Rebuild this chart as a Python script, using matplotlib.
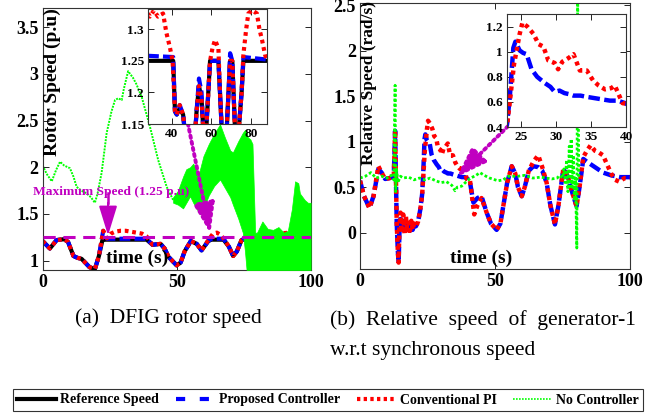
import matplotlib
matplotlib.use('Agg')
import matplotlib.pyplot as plt
from matplotlib.lines import Line2D
from matplotlib.ticker import FuncFormatter

plt.rcParams['font.family'] = 'serif'
plt.rcParams['font.serif'] = ['Liberation Serif', 'DejaVu Serif']
plt.rcParams['font.weight'] = 'bold'

# ---------------- (a) DFIG rotor speed ----------------
t_ref_a = [0, 2.7, 5.2, 8, 9.5, 11.5, 13, 14.5, 17.5, 19.5, 21, 22.3, 23.5, 38.8, 41, 44, 45.5, 47, 50, 51.5, 53,
           55.3, 57.5, 59.3, 61.8, 63, 67.5, 69.5, 71.1, 72.5, 74.2, 75.5, 78, 80.3, 82, 100]
w_ref_a = [1.21, 1.13, 1.22, 1.23, 1.2, 1.05, 1.03, 1.02, 0.93, 0.91, 1.05, 1.22, 1.225, 1.225, 1.17, 1.18, 1.13, 1.04,
           0.95, 0.98, 1.1, 1.21, 1.18, 1.11, 1.21, 1.225, 1.225, 1.15, 1.05, 1.1, 1.22, 1.23, 1.23, 1.13, 1.23, 1.23]

t_prop_a = [0, 2.7, 5.2, 8, 9.5, 11.5, 13, 14.5, 17.5, 19.5, 21, 22.6, 24, 38.8, 41, 44, 45.5, 47, 50, 51.5, 53,
            55.3, 57.5, 59.3, 61.8, 63, 67.5, 69.5, 71.1, 72.5, 74.2, 75.5, 78, 80.3, 82, 100]
w_prop_a = [1.21, 1.13, 1.22, 1.23, 1.2, 1.05, 1.03, 1.02, 0.93, 0.91, 1.05, 1.32, 1.235, 1.235, 1.17, 1.18, 1.13,
            1.04, 0.95, 0.98, 1.1, 1.21, 1.18, 1.11, 1.21, 1.235, 1.235, 1.15, 1.05, 1.1, 1.22, 1.24, 1.24, 1.15,
            1.25, 1.25]

t_pi_a = [0, 2.7, 5.2, 8, 9.5, 11.5, 13, 14.5, 17.5, 19.5, 21, 22.6, 24, 25.5, 27, 29, 31, 33, 35, 37, 38.8, 41, 44,
          45.5, 47, 50, 51.5, 53, 55.3, 57.5, 59.3, 61.8, 63.6, 65, 66.2, 67.5, 69.5, 71.1, 72.5, 74.2, 75.5, 78,
          80.3, 82, 85, 88, 92, 95, 100]
w_pi_a = [1.21, 1.13, 1.22, 1.23, 1.2, 1.05, 1.03, 1.02, 0.93, 0.91, 1.05, 1.32, 1.24, 1.29, 1.31, 1.32, 1.32, 1.31,
          1.3, 1.29, 1.26, 1.17, 1.18, 1.13, 1.04, 0.95, 0.98, 1.1, 1.21, 1.18, 1.11, 1.22, 1.29, 1.3, 1.28, 1.24,
          1.15, 1.05, 1.1, 1.22, 1.25, 1.26, 1.15, 1.27, 1.3, 1.29, 1.3, 1.27, 1.26]

t_nc_a = [0, 1.5, 3.4, 5, 6.5, 8, 10.2, 11.5, 12.7, 14.5, 16.4, 18, 19.5, 20.5, 22, 23.9, 25.7, 27, 28.2, 29.5, 30.3,
          31.9, 33.7, 35, 37, 40, 43.1, 46.3, 48.7, 50.5, 52]
w_nc_a = [2.02, 1.93, 1.85, 1.97, 2.06, 2.02, 1.99, 1.9, 1.79, 1.75, 1.72, 1.68, 1.62, 1.72, 1.94, 2.37, 2.6, 2.72,
          2.74, 2.72, 2.84, 3.03, 2.96, 2.89, 2.75, 2.44, 2.08, 1.79, 1.65, 1.68, 1.62]

# oscillating part of the no-controller case (envelope of the band)
t_band_a = [48.7, 50.5, 52.4, 53.6, 55, 56.2, 58.2, 60, 62, 64, 66.2, 68, 70, 71, 73, 74.7, 75.5, 76.1, 76.6, 77.5,
            78.3, 79.3, 80, 82, 84, 86, 88, 90, 91.5, 93, 94.2, 95.4, 96, 97.8, 99, 100]
hi_band_a = [1.68, 1.75, 1.9, 1.98, 2.0, 2.04, 1.92, 2.12, 2.25, 2.36, 2.46, 2.32, 2.18, 2.16, 2.28, 2.37, 2.40, 2.38,
             2.32, 2.3, 2.25, 1.3, 1.3, 1.42, 1.34, 1.33, 1.36, 1.3, 1.32, 1.55, 1.85, 1.83, 1.72, 1.65, 1.62, 1.62]
lo_band_a = [1.62, 1.6, 1.56, 1.62, 1.69, 1.62, 1.52, 1.56, 1.7, 1.8, 1.87, 1.78, 1.68, 1.6, 1.45, 1.3, 1.1, 0.9,
             0.9, 0.9, 0.9, 0.9, 0.9, 0.9, 0.9, 0.9, 0.9, 0.9, 0.9, 0.9, 0.9, 0.9, 0.9, 0.9, 0.9, 0.9]

max_speed = 1.255

# zoomed window of (a)
t_ref_in = [28, 40.7, 41.6, 42.5, 44, 45.7, 46.5, 48, 51, 52.5, 53.7, 55, 55.9, 57, 58.4, 59.3, 63.5, 64.3, 65.2,
            67.5, 68.6, 69.4, 70.5, 71.9, 73.5, 75.2, 76.1, 88]
w_ref_in = [1.25, 1.25, 1.17, 1.165, 1.175, 1.165, 1.14, 1.10, 1.10, 1.17, 1.21, 1.19, 1.14, 1.12, 1.2, 1.25, 1.25,
            1.2, 1.14, 1.13, 1.2, 1.25, 1.25, 1.14, 1.13, 1.2, 1.25, 1.25]
w_prop_in = [1.258, 1.256, 1.17, 1.165, 1.18, 1.165, 1.14, 1.10, 1.10, 1.17, 1.222, 1.2, 1.14, 1.12, 1.2, 1.25, 1.25,
             1.2, 1.14, 1.13, 1.2, 1.262, 1.25, 1.14, 1.13, 1.2, 1.256, 1.252]
t_pi_in = [28, 29, 31, 33, 35.6, 37.3, 39, 40.4, 41.6, 42.5, 44, 45.7, 46.5, 48, 51, 52.5, 53.7, 55, 55.9, 57, 58.4,
           59.3, 60.5, 61.8, 63.5, 64.3, 65.2, 67.5, 68.6, 69.4, 70.5, 71.9, 73.5, 75.2, 76.1, 77.5, 78.6, 80.5,
           82.9, 84.2, 85.5, 87, 88]
w_pi_in = [1.325, 1.32, 1.33, 1.32, 1.325, 1.294, 1.272, 1.25, 1.17, 1.165, 1.18, 1.165, 1.14, 1.10, 1.10, 1.17,
           1.21, 1.19, 1.14, 1.12, 1.2, 1.25, 1.27, 1.283, 1.27, 1.2, 1.14, 1.13, 1.2, 1.25, 1.25, 1.14, 1.13, 1.2,
           1.26, 1.30, 1.325, 1.33, 1.325, 1.30, 1.283, 1.26, 1.25]

# ---------------- (b) relative speed of generator-1 ----------------
t_prop_b = [0, 1.5, 3.5, 5, 6.8, 8, 9.3, 11, 12.5, 12.8, 13.0, 13.3, 13.6, 14.0, 14.3, 14.6, 15, 15.5, 16, 16.5, 17,
            17.5, 18, 18.5, 19, 19.5, 20, 20.7, 21.5, 22.3, 23, 23.4, 23.9, 24.2, 24.8, 25.3, 25.8, 26.5, 27.3, 28.4,
            29.2, 29.8, 30.5, 31.2, 32, 32.5, 33.5, 34.4, 35.5, 36.6, 37.7, 38.8, 39.9, 40.7, 42, 43.5, 45, 46.9,
            48.5, 50.6, 52, 53, 54.5, 56.2, 57.5, 58.5, 59.9, 61, 62.5, 64.2, 66, 67.5, 69.1, 70.5, 72.2, 73.5, 75.3,
            76.2, 77.2, 78.5, 80.2, 81.3, 82.7, 84, 86, 88, 90, 93, 96.3, 100]
w_prop_b = [0.57, 0.4, 0.27, 0.4, 0.70, 0.66, 0.59, 0.6, 0.62, 0.9, 1.12, 0.6, 0.1, -0.2, -0.33, 0.0, 0.15, 0.08,
            0.13, 0.05, 0.12, 0.04, 0.1, 0.02, 0.09, 0.03, 0.08, 0.07, 0.12, 0.25, 0.42, 0.64, 1.03, 1.08, 1.01,
            0.99, 0.98, 0.86, 0.8, 0.75, 0.72, 0.68, 0.69, 0.67, 0.66, 0.65, 0.65, 0.64, 0.63, 0.62, 0.61, 0.61,
            0.59, 0.56, 0.33, 0.38, 0.40, 0.22, 0.1, 0.03, 0.1, 0.28, 0.55, 0.73, 0.65, 0.5, 0.40, 0.5, 0.68, 0.73,
            0.72, 0.68, 0.55, 0.3, 0.09, 0.3, 0.70, 0.66, 0.59, 0.45, 0.29, 0.5, 0.81, 0.78, 0.74, 0.7, 0.66, 0.63,
            0.61, 0.61]

t_pi_b = [0, 1.5, 3.5, 5, 6.8, 8, 9.3, 11, 12.5, 12.8, 13.0, 13.3, 13.6, 14.0, 14.3, 14.6, 15, 15.5, 16, 16.5, 17,
          17.5, 18, 18.5, 19, 19.5, 20, 20.7, 21.5, 22.3, 23, 23.4, 24.0, 24.8, 25.2, 25.9, 26.8, 27.5, 28.2, 28.9,
          29.8, 30.3, 30.9, 31.8, 32.5, 33.4, 34.4, 35.3, 36.1, 37, 37.9, 38.4, 39.5, 40.7, 42.3, 43.5, 45, 46.9,
          48.5, 50.6, 52, 53, 54.5, 56.2, 57.5, 58.5, 59.9, 61, 62.5, 64.2, 66, 67.5, 69.1, 70.5, 72.2, 73.5, 75.3,
          76.2, 77.2, 78.5, 80.2, 81.3, 82.7, 84, 85.4, 87, 88.5, 90, 91.5, 93, 94.5, 96, 98, 100]
w_pi_b = [0.57, 0.4, 0.27, 0.4, 0.73, 0.66, 0.59, 0.6, 0.62, 0.9, 1.12, 0.6, 0.1, -0.2, -0.33, 0.05, 0.22, 0.0, 0.2,
          -0.02, 0.18, 0.0, 0.15, 0.02, 0.13, 0.03, 0.1, 0.07, 0.12, 0.25, 0.41, 0.6, 0.9, 1.14, 1.23, 1.2, 1.14,
          1.06, 1.04, 0.93, 0.91, 0.86, 0.92, 0.95, 0.98, 0.85, 0.85, 0.77, 0.73, 0.7, 0.71, 0.73, 0.59, 0.58, 0.2,
          0.3, 0.38, 0.22, 0.1, 0.03, 0.1, 0.28, 0.55, 0.73, 0.65, 0.5, 0.40, 0.5, 0.68, 0.78, 0.85, 0.72, 0.55,
          0.3, 0.09, 0.3, 0.70, 0.66, 0.59, 0.45, 0.29, 0.5, 0.83, 0.9, 0.96, 0.9, 0.88, 0.85, 0.75, 0.65, 0.58,
          0.56, 0.6, 0.6]

t_nc_b = [0, 2, 4, 5, 6, 8, 10, 11.5, 12.5, 13.0, 13.2, 13.5, 14, 15, 16, 18, 20, 22, 24, 26, 28, 30, 32, 34, 35.2,
          36, 37.6, 39, 41, 43, 44.4, 46, 48, 51.1, 53, 55, 58.5, 61, 64, 67, 71, 73, 74, 75, 75.5, 76, 76.5, 77,
          77.5, 77.8, 78.2, 78.6, 79, 79.4, 79.8, 80.3, 80.6, 81]
w_nc_b = [0.6, 0.62, 0.66, 0.63, 0.6, 0.62, 0.6, 0.63, 0.58, 1.62, 0.45, 0.7, 0.55, 0.62, 0.6, 0.61, 0.58, 0.6, 0.58,
          0.6, 0.57, 0.55, 0.56, 0.52, 0.46, 0.5, 0.51, 0.55, 0.6, 0.63, 0.66, 0.63, 0.6, 0.57, 0.58, 0.62, 0.62,
          0.63, 0.6, 0.61, 0.59, 0.6, 0.63, 0.6, 0.7, 0.55, 0.8, 0.45, 0.95, 0.48, 1.03, 0.5, 0.85, 0.35, 0.6,
          -0.17, 2.7, 0.6]

# annotation anchors (data coords)
arrow1_a = [(24.4, 1.72), (24.4, 1.27)]
arrow2_a = [(54.2, 2.47), (62.6, 1.29)]
arrow_b = [(54.8, 1.17), (35.8, 0.61)]

C_REF, C_PROP, C_PI, C_NC, C_ANN = 'black', '#0000ff', '#ff0000', '#00ff00', '#c000c0'
g = FuncFormatter(lambda v, p: '%g' % v)


def draw_lines(ax, sets, lw=3.0):
    for t, w, kind in sets:
        if kind == 'ref':
            ax.plot(t, w, color=C_REF, lw=lw, solid_capstyle='butt')
        elif kind == 'prop':
            ax.plot(t, w, color=C_PROP, lw=lw, linestyle=(0, (2.6, 1.0)))
        elif kind == 'pi':
            ax.plot(t, w, color=C_PI, lw=lw, linestyle=(0, (0.9, 0.9)))


def style(ax, size):
    ax.tick_params(direction='in', top=True, right=True, labelsize=size, length=4, width=0.6, pad=3)
    ax.xaxis.set_major_formatter(g)
    ax.yaxis.set_major_formatter(g)
    for s in ax.spines.values():
        s.set_linewidth(0.8)
        s.set_color('#333333')


fig = plt.figure(figsize=(6.56, 4.16), dpi=100)

# ---- panel (a)
ax1 = fig.add_axes([0.065, 0.351, 0.4085, 0.630])
draw_lines(ax1, [(t_ref_a, w_ref_a, 'ref'), (t_prop_a, w_prop_a, 'prop'), (t_pi_a, w_pi_a, 'pi')])
ax1.plot(t_nc_a, w_nc_a, color=C_NC, lw=1.4, linestyle=(0, (1, 0.6)))
ax1.fill_between(t_band_a, lo_band_a, hi_band_a, color=C_NC, lw=0.5, zorder=3)
ax1.axhline(max_speed, color=C_ANN, lw=2.2, linestyle=(0, (4, 2.5)), zorder=4)
ax1.text(25.5, 1.74, 'Maximum Speed (1.25 p.u)', color=C_ANN, fontsize=9.7, ha='center', va='center')
ax1.plot([arrow1_a[0][0]] * 2, [arrow1_a[0][1], 1.62], color=C_ANN, lw=1.8)
ax1.annotate('', xy=arrow1_a[1], xytext=(arrow1_a[1][0], 1.62),
             arrowprops=dict(arrowstyle='-|>,head_length=1.3,head_width=0.4', color=C_ANN, lw=1.5,
                             mutation_scale=14, shrinkA=0, shrinkB=0))
ax1.annotate('', xy=arrow2_a[1], xytext=arrow2_a[0],
             arrowprops=dict(arrowstyle='-|>,head_length=1.3,head_width=0.45', color=C_ANN, lw=2.8,
                             linestyle=(0, (0.6, 1.0)), mutation_scale=14, shrinkA=0, shrinkB=0))
ax1.set_xlim(0, 100)
ax1.set_ylim(0.9, 3.708)
ax1.set_xticks([0, 50, 100])
ax1.set_yticks([1, 1.5, 2, 2.5, 3, 3.5])
style(ax1, 13)
ax1.text(0.038, 0.717, 'Rotor Speed (p.u)', transform=ax1.transAxes, rotation=90, ha='center', va='center',
         fontsize=14)
ax1.text(0.351, 0.045, 'time (s)', transform=ax1.transAxes, ha='center', va='center', fontsize=14, zorder=6)

ins1 = fig.add_axes([0.2256, 0.7019, 0.1814, 0.2764])
draw_lines(ins1, [(t_ref_in, w_ref_in, 'ref'), (t_ref_in, w_prop_in, 'prop'), (t_pi_in, w_pi_in, 'pi')])
ins1.set_xlim(28, 88)
ins1.set_ylim(1.15, 1.332)
ins1.set_xticks([40, 60, 80])
ins1.set_yticks([1.15, 1.2, 1.25, 1.3])
style(ins1, 9.5)

# ---- panel (b)
ax2 = fig.add_axes([0.5488, 0.3534, 0.4116, 0.6394])
draw_lines(ax2, [(t_prop_b, w_prop_b, 'prop'), (t_pi_b, w_pi_b, 'pi')], lw=3.2)
ax2.plot(t_nc_b, w_nc_b, color=C_NC, lw=2.0, linestyle=(0, (1, 0.8)))
ax2.annotate('', xy=arrow_b[1], xytext=arrow_b[0],
             arrowprops=dict(arrowstyle='-|>,head_length=1.3,head_width=0.45', color=C_ANN, lw=2.8,
                             linestyle=(0, (0.6, 1.0)), mutation_scale=14, shrinkA=0, shrinkB=0))
ax2.set_xlim(0, 100)
ax2.set_ylim(-0.4, 2.525)
ax2.set_xticks([0, 50, 100])
ax2.set_yticks([0, 0.5, 1, 1.5, 2, 2.5])
style(ax2, 13)
ax2.text(0.035, 0.70, 'Relative Speed (rad/s)', transform=ax2.transAxes, rotation=90, ha='center', va='center',
         fontsize=12.5)
ax2.text(0.45, 0.04, 'time (s)', transform=ax2.transAxes, ha='center', va='center', fontsize=14)

ins2 = fig.add_axes([0.7729, 0.6947, 0.1814, 0.2716])
draw_lines(ins2, [(t_prop_b, w_prop_b, 'prop'), (t_pi_b, w_pi_b, 'pi')], lw=3.2)
ins2.set_xlim(23, 40)
ins2.set_ylim(0.4, 1.3)
ins2.set_xticks([25, 30, 35, 40])
ins2.set_yticks([0.4, 0.6, 0.8, 1, 1.2])
style(ins2, 9.5)

# ---- captions
fig.text(0.257, 1 - 318 / 416, '(a)  DFIG rotor speed', ha='center', va='center', fontsize=15.5,
         fontweight='normal')
fig.text(330 / 656, 1 - 320 / 416, '(b)  Relative  speed  of  generator-1', ha='left', va='center', fontsize=15.5,
         fontweight='normal')
fig.text(330 / 656, 1 - 350 / 416, 'w.r.t synchronous speed', ha='left', va='center', fontsize=15.5,
         fontweight='normal')

# ---- shared legend
handles = [Line2D([], [], color=C_REF, lw=3),
           Line2D([], [], color=C_PROP, lw=3, linestyle=(0, (2.2, 3.5))),
           Line2D([], [], color=C_PI, lw=3, linestyle=(0, (0.8, 0.8))),
           Line2D([], [], color=C_NC, lw=1.2, linestyle=(0, (1, 0.8)))]
labels = ['Reference Speed', 'Proposed Controller', 'Conventional PI', 'No Controller']
leg = fig.legend(handles, labels, loc='center', bbox_to_anchor=(0.5, 1 - 400 / 416), ncol=4, fontsize=10,
                 frameon=True, fancybox=False, edgecolor='black', handlelength=2.8, handletextpad=0.3,
                 columnspacing=1.2, borderpad=0.3)
leg.get_frame().set_linewidth(0.8)

fig.savefig('out.png', dpi=100)
